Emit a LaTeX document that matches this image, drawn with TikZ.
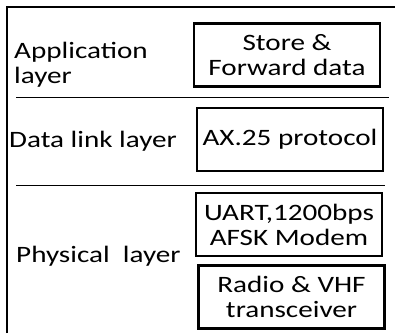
\documentclass[tikz,border=0pt]{standalone}
\usepackage{fontspec}
\setmainfont[FakeStretch=1.24]{Carlito}

\begin{document}
\begin{tikzpicture}[x=1pt,y=-1pt,font=\fontsize{23.5}{25}\selectfont]
    \tikzstyle{block}=[draw=black,line width=2.6pt,inner sep=0pt,align=center,minimum width=186pt,minimum height=63pt]
    \tikzstyle{layer}=[anchor=west,inner sep=0pt,align=left]
    \useasboundingbox (0,0) rectangle (395,333);

    % frame
    \draw[line width=1.3pt] (7,333) -- (7,7) -- (395,7);

    % layer names
    \node[layer] (app) at (14,65) {Application\\layer};
    \node[layer] (dll) at (9,141) {Data link layer};
    \node[layer] (phy) at (16,256) {Physical\ \ layer};

    % blocks
    \foreach \name/\x/\y/\txt in {store/287/55/{Store \&\\Forward data}, ax/290/139.5/{AX.25 protocol},
        uart/289/224.5/{UART,1200bps\\AFSK Modem}, radio/291.5/297/{Radio \& VHF\\transceiver}}
            \node[block] (\name) at (\x,\y) {\txt};

    % separators
    \draw[line width=0.9pt] (16,97) -- (389,97);
    \draw[line width=0.9pt] (16,185) -- (385,185);
\end{tikzpicture}
\end{document}
